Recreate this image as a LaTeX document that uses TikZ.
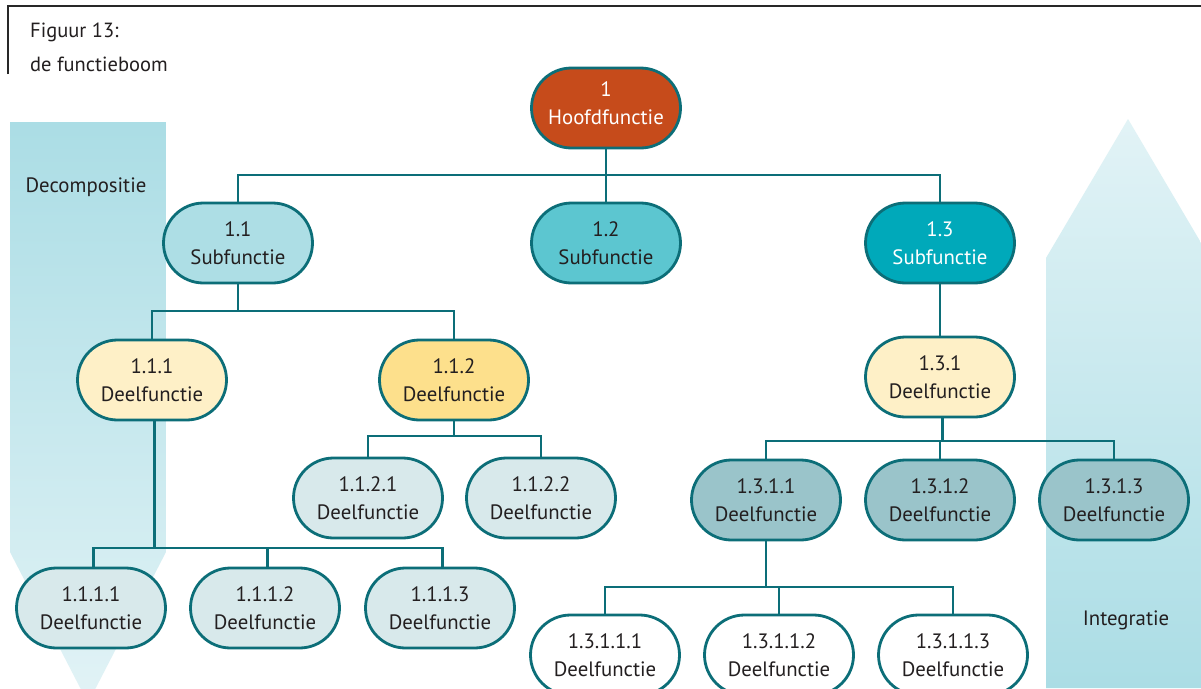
\documentclass[tikz,border=0pt]{standalone}
\usepackage{fontspec}
\setmainfont{PT Sans}
\usetikzlibrary{shapes.misc}
\definecolor{linec}{RGB}{12,110,120}
\definecolor{ink}{RGB}{35,31,32}
\definecolor{framec}{RGB}{40,40,40}
\definecolor{hoofd}{RGB}{198,75,27}
\definecolor{subA}{RGB}{173,222,229}
\definecolor{subB}{RGB}{92,198,208}
\definecolor{subC}{RGB}{0,169,186}
\definecolor{deelY}{RGB}{254,240,199}
\definecolor{deelO}{RGB}{253,224,140}
\definecolor{deelG}{RGB}{216,233,235}
\definecolor{deelT}{RGB}{154,196,202}
\definecolor{arrowDark}{RGB}{171,221,229}
\definecolor{arrowLight}{RGB}{226,243,246}
\begin{document}
\begin{tikzpicture}[x=1pt,y=-1pt,
  fn/.style={rounded rectangle, draw=linec, line width=2.8pt,
    minimum width=149pt, minimum height=80pt, inner sep=0pt,
    align=center, text=ink, font=\fontsize{20.8}{28}\selectfont},
  conn/.style={draw=linec, line width=2.8pt},
  caption/.style={anchor=base west, inner sep=0pt, text=ink, font=\fontsize{20.5}{24}\selectfont},
  side/.style={inner sep=0pt, text=ink, font=\fontsize{20.8}{24}\selectfont}]
\clip (0,0) rectangle (1201,688);
\fill[white] (0,0) rectangle (1201,688);

% decomposition and integration arrows
\shade[top color=arrowDark, bottom color=arrowLight]
  (10,122) -- (166,122) -- (166,552) -- (88,703) -- (10,552) -- cycle;
\shade[top color=arrowLight, bottom color=arrowDark]
  (1046,688) -- (1046,258) -- (1128,119) -- (1210,258) -- (1210,688) -- cycle;
\node[side] (dec) at (86,187) {Decompositie};
\node[side] (int) at (1126,620) {Integratie};

% caption frame
\draw[framec, line width=2pt] (8,74) -- (8,6) -- (1201,6);
\node[caption] (cap1) at (30,37) {Figuur 13:};
\node[caption] (cap2) at (30,71) {de functieboom};

% function nodes
\node[fn, fill=hoofd, text=white, text depth=10pt] (n1) at (606,108) {1\\Hoofdfunctie};
\node[fn, fill=subA] (n11) at (238,243) {1.1\\Subfunctie};
\node[fn, fill=subB] (n12) at (606,243) {1.2\\Subfunctie};
\node[fn, fill=subC, text=white] (n13) at (940,243) {1.3\\Subfunctie};
\node[fn, fill=deelY] (n111) at (152,380) {1.1.1\\Deelfunctie};
\node[fn, fill=deelO] (n112) at (454,380) {1.1.2\\Deelfunctie};
\node[fn, fill=deelY] (n131) at (940,377) {1.3.1\\Deelfunctie};
\node[fn, fill=deelG] (n1121) at (368,498) {1.1.2.1\\Deelfunctie};
\node[fn, fill=deelG] (n1122) at (541,498) {1.1.2.2\\Deelfunctie};
\node[fn, fill=deelT] (n1311) at (766,500) {1.3.1.1\\Deelfunctie};
\node[fn, fill=deelT] (n1312) at (940,500) {1.3.1.2\\Deelfunctie};
\node[fn, fill=deelT] (n1313) at (1114,500) {1.3.1.3\\Deelfunctie};
\node[fn, fill=deelG] (n1111) at (91,608) {1.1.1.1\\Deelfunctie};
\node[fn, fill=deelG] (n1112) at (265,608) {1.1.1.2\\Deelfunctie};
\node[fn, fill=deelG] (n1113) at (440,608) {1.1.1.3\\Deelfunctie};
\node[fn, fill=white] (n13111) at (605,655) {1.3.1.1.1\\Deelfunctie};
\node[fn, fill=white] (n13112) at (779,655) {1.3.1.1.2\\Deelfunctie};
\node[fn, fill=white] (n13113) at (953,655) {1.3.1.1.3\\Deelfunctie};

% connectors
\draw[conn] (n1.south) -- (n1.south |- 0,175);
\draw[conn] (n11.north) -- (n11.north |- 0,175) -| (n13.north);
\draw[conn] (n12.north) -- (n12.north |- 0,175);

\draw[conn] (n11.south) -- (n11.south |- 0,311);
\draw[conn] (n111.north) -- (n111.north |- 0,311) -| (n112.north);

\draw[conn] (n13.south) -- (n131.north);

\draw[conn] ([xshift=2.5pt]n111.south) -- ([xshift=2.5pt]n111.south |- 0,548);
\draw[conn] ([xshift=2.5pt]n1111.north) -- ([xshift=2.5pt]n1111.north |- 0,548) -| ([xshift=2.5pt]n1113.north);
\draw[conn] ([xshift=2.5pt]n1112.north) -- ([xshift=2.5pt]n1112.north |- 0,548);

\draw[conn] (n112.south) -- (n112.south |- 0,436);
\draw[conn] (n1121.north) -- (n1121.north |- 0,436) -| (n1122.north);

\draw[conn] ([xshift=2.5pt]n131.south) -- ([xshift=2.5pt]n131.south |- 0,441);
\draw[conn] (n1311.north) -- (n1311.north |- 0,441) -| (n1313.north);
\draw[conn] (n1312.north) -- (n1312.north |- 0,441);

\draw[conn] (n1311.south) -- (n1311.south |- 0,587);
\draw[conn] (n13111.north) -- (n13111.north |- 0,587) -| (n13113.north);
\draw[conn] (n13112.north) -- (n13112.north |- 0,587);
\end{tikzpicture}
\end{document}
